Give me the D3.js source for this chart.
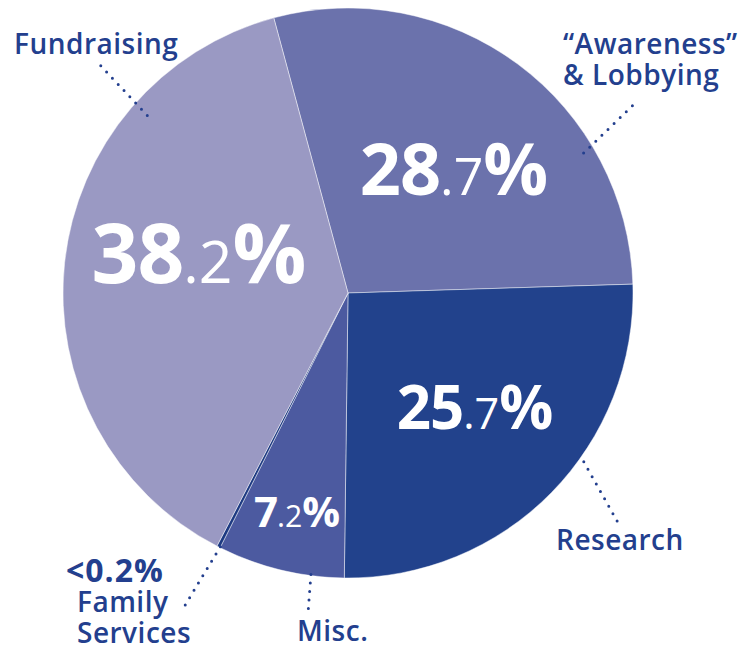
<!DOCTYPE html>
<html><head><meta charset="utf-8">
<script src="https://cdn.jsdelivr.net/npm/d3@7"></script>
<style>
html,body{margin:0;padding:0;background:#fff;}
svg{display:block;}
</style>
</head><body>
<svg id="chart" width="752" height="647"></svg>
<script>
// ---- data ----
const categories = ["“Awareness” & Lobbying", "Research", "Misc.", "Family Services", "Fundraising"];
const values = [28.7, 25.7, 7.2, 0.2, 38.2];
const pctWhole = ["28", "25", "7", null, "38"];
const pctFrac = [".7", ".7", ".2", null, ".2"];
const colors = ["#6b72ac", "#22428c", "#4c5aa0", "#1d3a82", "#9a99c3"];

// ---- layout ----
const W = 752, H = 647, cx = 348, cy = 293, R = 285;
const startDeg = -15.1;
const navy = "#233f8e";

const svg = d3.select("#chart");
const g = svg.append("g").attr("transform", `translate(${cx},${cy})`);

const pie = d3.pie().sort(null).value(d => d)
  .startAngle(startDeg * Math.PI / 180)
  .endAngle(startDeg * Math.PI / 180 + 2 * Math.PI);
const arcs = pie(values);
const arc = d3.arc().innerRadius(0).outerRadius(R);

g.selectAll("path.slice").data(arcs).join("path")
  .attr("class", "slice")
  .attr("d", arc)
  .attr("fill", (d, i) => colors[i])
  .attr("stroke", "rgba(255,255,255,0.45)")
  .attr("stroke-width", 1);

// percentage labels inside slices (layout: position and size)
const pctLayout = [
  {x: 454, y: 195, size: 72},
  {x: 475, y: 429, size: 60},
  {x: 297, y: 527, size: 42},
  null,
  {x: 199, y: 283, size: 82}
];
arcs.forEach((a, i) => {
  const L = pctLayout[i];
  if (!L) return;
  const t = svg.append("text")
    .attr("x", L.x).attr("y", L.y)
    .attr("text-anchor", "middle")
    .attr("fill", "#fff")
    .attr("font-family", "'Open Sans', 'Noto Sans', sans-serif");
  t.append("tspan").attr("font-size", L.size).attr("font-weight", 700).attr("letter-spacing", -1).text(pctWhole[i]);
  t.append("tspan").attr("font-size", L.size * 0.72).attr("font-weight", 500).text(pctFrac[i]);
  t.append("tspan").attr("font-size", L.size).attr("font-weight", 700).text("%");
});

// leader lines (polar: angle deg clockwise from 12 o'clock, radius)
const leaders = [
  {a1: 59.3, r1: 274, a2: 56.4, r2: 348},
  {a1: 125.6, r1: 290, a2: 130.3, r2: 353},
  {a1: 187.5, r1: 284, a2: 187.1, r2: 325},
  {a1: 206.7, r1: 284, a2: 207.6, r2: 356},
  {a1: -48.5, r1: 268, a2: -47.4, r2: 337}
];
const pol = (a, r) => [Math.sin(a * Math.PI / 180) * r, -Math.cos(a * Math.PI / 180) * r];
g.selectAll("line.leader").data(leaders).join("line")
  .attr("class", "leader")
  .attr("x1", d => pol(d.a1, d.r1)[0]).attr("y1", d => pol(d.a1, d.r1)[1])
  .attr("x2", d => pol(d.a2, d.r2)[0]).attr("y2", d => pol(d.a2, d.r2)[1])
  .attr("stroke", navy)
  .attr("stroke-width", 3)
  .attr("stroke-linecap", "round")
  .attr("stroke-dasharray", "0 8.5");

// category labels
const labelLayout = [
  {x: 563, y: 54, lines: ["“Awareness”", "& Lobbying"]},
  {x: 556, y: 550, lines: ["Research"]},
  {x: 297, y: 641, lines: ["Misc."]},
  {x: 77, y: 612, lines: ["Family", "Services"]},
  {x: 14, y: 54, lines: ["Fundraising"]}
];
labelLayout.forEach((L, i) => {
  const t = svg.append("text")
    .attr("x", L.x).attr("y", L.y)
    .attr("text-anchor", "start")
    .attr("fill", navy)
    .attr("font-family", "'Open Sans', 'Noto Sans', sans-serif")
    .attr("font-size", 28)
    .attr("font-weight", 600)
    .attr("letter-spacing", 0.5);
  L.lines.forEach((ln, k) => {
    t.append("tspan").attr("x", L.x).attr("dy", k === 0 ? 0 : 31).text(ln);
  });
});
// Family Services value label
svg.append("text")
  .attr("x", 66).attr("y", 582)
  .attr("fill", navy)
  .attr("font-family", "'Open Sans', 'Noto Sans', sans-serif")
  .attr("font-size", 32)
  .attr("font-weight", 700)
  .attr("letter-spacing", 1)
  .text("<" + values[3] + "%");
</script>
</body></html>
